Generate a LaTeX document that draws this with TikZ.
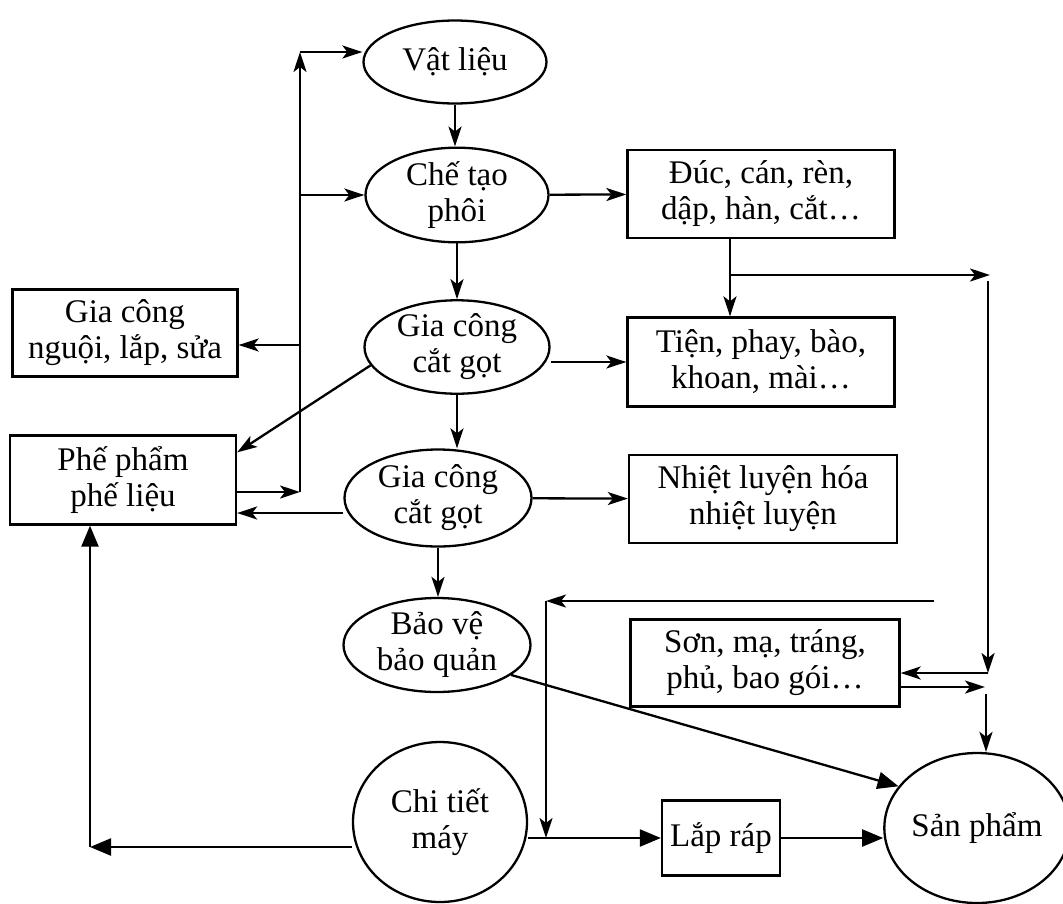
\documentclass[tikz,border=0pt]{standalone}
\usepackage{fontspec}
\setmainfont{Liberation Serif}
\usetikzlibrary{arrows.meta,shapes.geometric}

\begin{document}
\begin{tikzpicture}[x=1pt,y=-1pt,line width=2.3pt,
    >={Stealth[length=20pt,width=13pt,inset=5pt]},
    fat/.style={-{Triangle[length=21pt,width=17pt]}}]

      \useasboundingbox (0,0) rectangle (1063,903);

      \begin{scope}[every node/.style={ellipse,draw,inner sep=0pt,align=center,
          font=\fontsize{33}{36}\selectfont}]
        \node[minimum width=183pt,minimum height=83pt]  (1) at (455,62)  {Vật liệu};
        \node[minimum width=183pt,minimum height=86pt]  (2) at (457,195) {Chế tạo\\phôi};
        \node[minimum width=185pt,minimum height=93pt]  (3) at (457,347) {Gia công\\cắt gọt};
        \node[minimum width=187pt,minimum height=97pt]  (4) at (438,498) {Gia công\\cắt gọt};
        \node[minimum width=187pt,minimum height=94pt]  (5) at (437,645) {Bảo vệ\\bảo quản};
        \node[minimum width=174pt,minimum height=160pt] (6) at (440,822) {Chi tiết\\máy};
        \node[minimum width=167pt,minimum height=150pt] (7) at (977,828) {Sản phẩm};
      \end{scope}

      \begin{scope}[every node/.style={rectangle,draw,inner sep=0pt,align=center,
          font=\fontsize{33}{36}\selectfont}]
        \node[minimum width=267pt,minimum height=88pt] (8)  at (761,194) {Đúc, cán, rèn,\\dập, hàn, cắt…};
        \node[minimum width=267pt,minimum height=89pt] (9)  at (761,362) {Tiện, phay, bào,\\khoan, mài…};
        \node[minimum width=268pt,minimum height=88pt] (10) at (763,499) {Nhiệt luyện hóa\\nhiệt luyện};
        \node[minimum width=269pt,minimum height=87pt] (11) at (765,663) {Sơn, mạ, tráng,\\phủ, bao gói…};
        \node[minimum width=118pt,minimum height=75pt] (12) at (721,838) {Lắp ráp};
        \node[minimum width=225pt,minimum height=87pt] (13) at (125,333) {Gia công\\nguội, lắp, sửa};
        \node[minimum width=226pt,minimum height=89pt] (14) at (123,480) {Phế phẩm\\phế liệu};
      \end{scope}

      \coordinate (b1) at (300,52);
      \coordinate (b2) at (300,492);
      \coordinate (b3) at (300,345);
      \coordinate (d1) at (730,275);
      \coordinate (d2) at (990,275);
      \coordinate (d3) at (988,281);
      \coordinate (d4) at (988,673);
      \coordinate (d5) at (985,687);
      \coordinate (d6) at (986,694);
      \coordinate (e1) at (934,601);
      \coordinate (e2) at (546,601);
      \coordinate (e3) at (546,838);
      \coordinate (f1) at (90,847);

      \begin{scope}[every edge/.style={draw,->}]
        \path (1) edge (1 |- 2.north);
        \path (2) edge (2 |- 3.north);
        \path (3) edge (3 |- 4.north);
        \path (4) edge (4 |- 5.north);
        \path (2) edge (8);
        \path (3.east |- 9) edge (9);
        \path (4) edge (10);
        \path ([yshift=-15pt]4.west) edge ([yshift=-15pt]4.west -| 14.east);
        \path (3.192) edge ([yshift=-18pt]14.north east);
        \path ([yshift=-12pt]14.east) edge (b2);
        \path (b2) edge (b1);
        \path (b1) edge (b1 -| 1.west);
        \path (b1 |- 2) edge (2);
        \path (b3) edge (b3 -| 13.east);
        \path (8.south -| d1) edge (9.north -| d1);
        \path (d1) edge (d2);
        \path (d3) edge (d4);
        \path (d4) edge (d4 -| 11.east);
        \path (d5 -| 11.east) edge (d5);
        \path (d6) edge (d6 |- 7.north);
        \path (e1) edge (e2);
        \path (e2) edge (e3);
        \path (e3 -| 6.east) edge[fat] (12);
        \path (12.east) edge[fat] (12.east -| 7.west);
        \path (5.-22) edge[fat] (7.152);
        \path (6.west |- f1) edge[fat] (f1);
        \path (f1) edge[fat] (f1 |- 14.south);
      \end{scope}

    \end{tikzpicture}
\end{document}
